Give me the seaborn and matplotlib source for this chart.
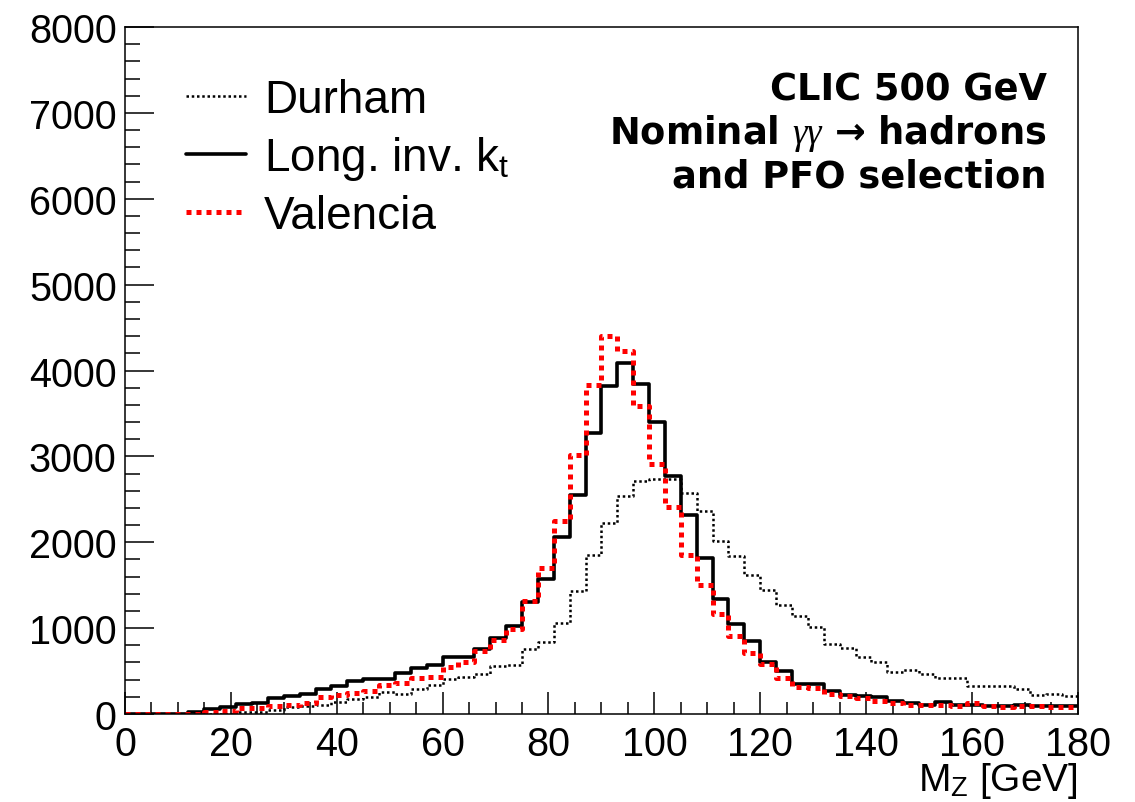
import numpy as np
import pandas as pd
import matplotlib
matplotlib.use("Agg")
import matplotlib.pyplot as plt
import seaborn as sns
from matplotlib.lines import Line2D
from matplotlib.ticker import MultipleLocator

# ---- data: 60 bins of 3 GeV from 0 to 180 ----
bin_edges = list(range(0, 183, 3))
bin_centers = [e + 1.5 for e in bin_edges[:-1]]

durham = [0, 0, 0, 0, 0, 0, 5, 19, 27, 47,
          78, 89, 105, 136, 175, 194, 252, 233, 291, 338,
          405, 427, 466, 555, 575, 755, 840, 1064, 1436, 1852,
          2224, 2542, 2713, 2735, 2741, 2570, 2368, 2020, 1844, 1619,
          1448, 1269, 1137, 1009, 815, 765, 660, 609, 493, 516,
          466, 415, 415, 322, 322, 322, 291, 221, 233, 213]

long_inv_kt = [0, 0, 0, 5, 27, 58, 78, 116, 128, 182,
               213, 233, 291, 322, 380, 408, 408, 477, 532, 575,
               668, 668, 760, 890, 1020, 1305, 1575, 2060, 2552, 3268,
               3820, 4090, 3848, 3397, 2766, 2315, 1822, 1343, 1044, 850,
               609, 497, 349, 349, 264, 225, 206, 194, 155, 124,
               109, 144, 105, 105, 89, 89, 109, 89, 89, 89]

valencia = [0, 0, 0, 0, 5, 20, 39, 66, 66, 89,
            105, 128, 194, 221, 241, 264, 338, 361, 415, 425,
            543, 602, 737, 860, 985, 1315, 1700, 2251, 3016, 3833,
            4405, 4231, 3583, 2907, 2414, 1848, 1502, 1160, 912, 714,
            582, 415, 311, 299, 233, 206, 182, 155, 128, 105,
            105, 105, 89, 128, 97, 78, 97, 89, 78, 78]

series_labels = ["Durham", "Long. inv. k$_\\mathregular{t}$", "Valencia"]

x_ticks = [0, 20, 40, 60, 80, 100, 120, 140, 160, 180]
y_ticks = [0, 1000, 2000, 3000, 4000, 5000, 6000, 7000, 8000]

# ---- style ----
sns.set_theme(style="white")
plt.rcParams['font.family'] = ['Liberation Sans', 'DejaVu Sans']
plt.rcParams['text.color'] = 'black'
plt.rcParams['axes.labelcolor'] = 'black'
plt.rcParams['mathtext.fontset'] = 'custom'
plt.rcParams['mathtext.rm'] = 'Liberation Sans'
plt.rcParams['mathtext.it'] = 'Liberation Serif:italic'
plt.rcParams['mathtext.bf'] = 'DejaVu Sans:bold'

fig = plt.figure(figsize=(11.35, 8.03), dpi=100)
ax = fig.add_axes([0.1101, 0.1096, 0.8396, 0.8555])

df = pd.DataFrame({"center": bin_centers, "durham": durham,
                   "kt": long_inv_kt, "valencia": valencia})

common = dict(x="center", bins=bin_edges, element="step", fill=False, ax=ax)
sns.histplot(data=df, weights="durham", color="black", linewidth=1.8,
             linestyle=(0, (1, 1.1)), **common)
sns.histplot(data=df, weights="kt", color="black", linewidth=2.6,
             linestyle="-", **common)
sns.histplot(data=df, weights="valencia", color="#ff0000", linewidth=3.6,
             linestyle=(0, (1, 1)), **common)

ax.set_xlim(0, 180)
ax.set_ylim(0, 8000)
ax.set_xticks(x_ticks)
ax.set_yticks(y_ticks)
ax.xaxis.set_minor_locator(MultipleLocator(5))
ax.yaxis.set_minor_locator(MultipleLocator(200))
ax.tick_params(axis="both", which="both", direction="in", colors="black",
               labelsize=28.5, bottom=True, left=True, top=False, right=False)
ax.tick_params(axis="y", which="major", length=21, width=1.1, pad=6)
ax.tick_params(axis="y", which="minor", length=11, width=1.1)
ax.tick_params(axis="x", which="major", length=16, width=1.1, pad=8)
ax.tick_params(axis="x", which="minor", length=8.5, width=1.1)
for s in ax.spines.values():
    s.set_color("black")
    s.set_linewidth(1.1)

ax.set_ylabel("")
ax.set_xlabel("M$_\\mathregular{Z}$ [GeV]", fontsize=28, loc="right",
              labelpad=-2, color="black")

handles = [Line2D([], [], color="black", linewidth=1.8, linestyle=(0, (1, 1.1))),
           Line2D([], [], color="black", linewidth=2.6, linestyle="-"),
           Line2D([], [], color="#ff0000", linewidth=3.6, linestyle=(0, (1, 1)))]
leg = ax.legend(handles, series_labels, loc="upper left", bbox_to_anchor=(0.045, 0.953),
                frameon=False, fontsize=33, handlelength=1.3, handletextpad=0.4,
                labelspacing=0.27, borderaxespad=0)
for t in leg.get_texts():
    t.set_color("black")

ax.text(0.9675, 0.936,
        "CLIC 500 GeV\nNominal $\\gamma\\gamma$ \u2192 hadrons\nand PFO selection",
        transform=ax.transAxes, ha="right", va="top", fontsize=26.5,
        fontweight="bold", family=["DejaVu Sans"], linespacing=1.14, color="black")

fig.savefig("out.png", dpi=100)
